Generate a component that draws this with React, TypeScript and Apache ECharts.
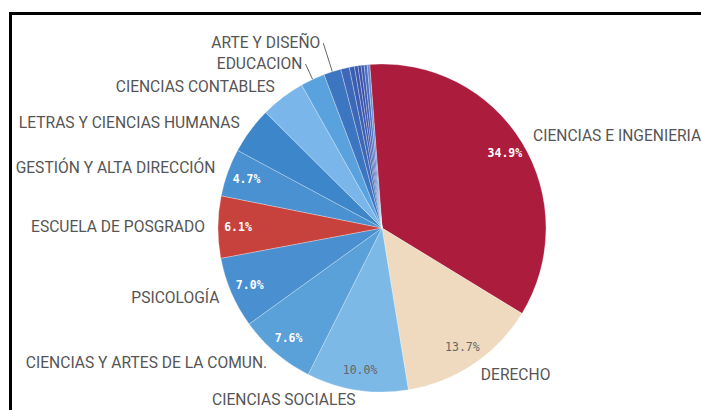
import React, { useEffect, useRef } from "react";
import * as echarts from "echarts";

const categories = [
  "CIENCIAS E INGENIERIA",
  "DERECHO",
  "CIENCIAS SOCIALES",
  "CIENCIAS Y ARTES DE LA COMUN.",
  "PSICOLOGÍA",
  "ESCUELA DE POSGRADO",
  "GESTIÓN Y ALTA DIRECCIÓN",
  "LETRAS Y CIENCIAS HUMANAS",
  "CIENCIAS CONTABLES",
  "EDUCACION",
  "ARTE Y DISEÑO",
  "OTRA FACULTAD 1",
  "OTRA FACULTAD 2",
  "OTRA FACULTAD 3",
  "OTRA FACULTAD 4",
  "OTRA FACULTAD 5",
  "OTRA FACULTAD 6",
  "OTRA FACULTAD 7",
];

const values = [34.9, 13.7, 10.0, 7.6, 7.0, 6.1, 4.7, 4.6, 4.4, 2.4, 1.7, 0.85, 0.5, 0.35, 0.3, 0.3, 0.3, 0.25];

const palette = [
  "#ab1c3d",
  "#efdabf",
  "#7db9e7",
  "#5aa0d9",
  "#4a90d0",
  "#c8423d",
  "#4a91d2",
  "#3d86c9",
  "#7ab6e9",
  "#5aa2dd",
  "#3c76c0",
  "#3d68b8",
  "#3a5fb2",
  "#3957ac",
  "#3a50a8",
  "#3b5bb3",
  "#4a6bc0",
  "#6d8bd0",
];

const namedCount = 11;
const percentThreshold = 4.7;
const lightSlices = ["DERECHO", "CIENCIAS SOCIALES"];

export default function App() {
  const ref = useRef<HTMLDivElement>(null);

  useEffect(() => {
    const chart = echarts.init(ref.current as HTMLDivElement, null, { renderer: "svg" });

    const nameData = categories.map((name, i) => {
      const lined = name === "EDUCACION" || name === "ARTE Y DISEÑO";
      let len = 13;
      if (name === "ARTE Y DISEÑO") len = 30;
      else if (name === "EDUCACION") len = 17;
      else if (name === "CIENCIAS SOCIALES") len = 10;
      return {
        name,
        value: values[i],
        itemStyle: { color: palette[i] },
        label: { show: i < namedCount, distanceToLabelLine: lined ? 3 : 0 },
        labelLine: { show: lined, length: len, length2: 0 },
      };
    });

    const pctData = categories.map((name, i) => {
      const light = lightSlices.includes(name);
      return {
        name,
        value: values[i],
        label: {
          show: values[i] >= percentThreshold,
          color: light ? "#666666" : "#ffffff",
          fontWeight: light ? "normal" : "bold",
        },
      };
    });

    chart.setOption({
      animation: false,
      graphic: [
        {
          type: "rect",
          silent: true,
          shape: { x: 10.5, y: 13.5, width: 760, height: 460 },
          style: { fill: "none", stroke: "#000000", lineWidth: 3 },
        },
      ],
      series: [
        {
          type: "pie",
          silent: true,
          center: [382, 228],
          radius: [0, 164],
          startAngle: 94.3,
          clockwise: true,
          avoidLabelOverlap: false,
          itemStyle: { borderColor: "rgba(255,255,255,0.35)", borderWidth: 0.8 },
          label: {
            show: true,
            position: "outside",
            formatter: "{b}",
            color: "#555555",
            fontFamily: "Roboto",
            fontSize: 15.6,
            overflow: "none",
          },
          labelLine: {
            lineStyle: { color: "#666666", width: 1 },
          },
          data: nameData,
        },
        {
          type: "pie",
          silent: true,
          center: [382, 228],
          radius: [118, 164],
          startAngle: 94.3,
          clockwise: true,
          avoidLabelOverlap: false,
          itemStyle: { color: "rgba(0,0,0,0)", borderWidth: 0 },
          label: {
            show: true,
            position: "inside",
            formatter: (p: any) => Number(p.value).toFixed(1) + "%",
            fontFamily: "DejaVu Sans Mono",
            fontSize: 11.5,
          },
          labelLine: { show: false },
          data: pctData,
        },
      ],
    });

    return () => {
      chart.dispose();
    };
  }, []);

  return (
    <div
      ref={ref}
      style={{ position: "fixed", left: 0, top: 0, width: 701, height: 410, background: "#ffffff" }}
    />
  );
}
